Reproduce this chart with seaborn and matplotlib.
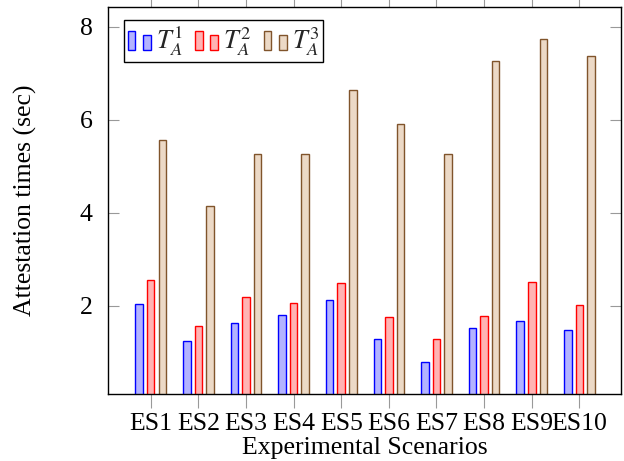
import matplotlib
matplotlib.use("Agg")
import matplotlib.pyplot as plt
import seaborn as sns
import pandas as pd
from matplotlib.legend_handler import HandlerBase
from matplotlib.patches import Rectangle

scenarios = ["ES1", "ES2", "ES3", "ES4", "ES5", "ES6", "ES7", "ES8", "ES9", "ES10"]
t1 = [2.04, 1.25, 1.63, 1.80, 2.12, 1.28, 0.79, 1.52, 1.67, 1.48]
t2 = [2.55, 1.56, 2.18, 2.06, 2.49, 1.76, 1.28, 1.77, 2.50, 2.02]
t3 = [5.56, 4.14, 5.26, 5.26, 6.65, 5.92, 5.26, 7.26, 7.74, 7.38]
series_names = [r"$T_A^1$", r"$T_A^2$", r"$T_A^3$"]
yticks = [2, 4, 6, 8]

fills = [(0.7, 0.7, 1.0), (1.0, 0.7, 0.7), (0.925, 0.85, 0.775)]
edges = [(0.0, 0.0, 1.0), (1.0, 0.0, 0.0), (0.5, 0.33, 0.17)]

rows = []
for name, vals in zip(series_names, [t1, t2, t3]):
    for s, v in zip(scenarios, vals):
        rows.append({"Scenario": s, "Series": name, "Time": v})
df = pd.DataFrame(rows)

sns.set_theme(style="white")
plt.rcParams["font.family"] = ["Liberation Serif", "DejaVu Serif"]
plt.rcParams["mathtext.fontset"] = "stix"

FS = 18.5

fig = plt.figure(figsize=(6.24, 4.61), dpi=100)
ax = fig.add_axes([108 / 624, 1 - 394 / 461, (621 - 108) / 624, (394 - 7) / 461])

sns.barplot(data=df, x="Scenario", y="Time", hue="Series", order=scenarios,
            hue_order=series_names, palette=fills, width=0.73, gap=0.35,
            linewidth=1.0, ax=ax, legend=False, saturation=1)

for cont, ec in zip(ax.containers, edges):
    for p in cont.patches:
        p.set_edgecolor(ec)
        p.set_linewidth(1.0)

ax.set_xlim(-0.897, 9.874)
ax.set_ylim(0.10, 8.43)
ax.set_yticks(yticks)
ax.set_yticklabels([str(t) for t in yticks])

for sp in ax.spines.values():
    sp.set_visible(True)
    sp.set_color("black")
    sp.set_linewidth(1.0)

ax.tick_params(axis="x", direction="out", length=10, width=0.8, color="0.6",
               top=True, bottom=True, labelsize=FS, pad=4, labelcolor="black")
ax.tick_params(axis="y", direction="in", length=8, width=0.8, color="0.6",
               left=True, right=True, labelsize=FS, pad=11, labelcolor="black")

ax.set_xlabel("Experimental Scenarios", fontsize=FS, labelpad=1, color="black")
ax.set_ylabel("Attestation times (sec)", fontsize=FS, labelpad=31, color="black")


class TwoBarHandler(HandlerBase):
    def __init__(self, fc, ec):
        super().__init__()
        self.fc = fc
        self.ec = ec

    def create_artists(self, legend, orig_handle, xdescent, ydescent, width,
                       height, fontsize, trans):
        bw = width * 0.33
        r1 = Rectangle((-xdescent, -ydescent - 0.1 * height), bw, height * 1.05,
                       facecolor=self.fc, edgecolor=self.ec, lw=1.0, transform=trans)
        r2 = Rectangle((-xdescent + width - bw, -ydescent - 0.1 * height), bw,
                       height * 0.8, facecolor=self.fc, edgecolor=self.ec, lw=1.0,
                       transform=trans)
        return [r1, r2]


handles = [Rectangle((0, 0), 1, 1) for _ in series_names]
handler_map = {h: TwoBarHandler(fc, ec) for h, fc, ec in zip(handles, fills, edges)}
leg = ax.legend(handles, series_names, handler_map=handler_map, ncol=3,
                loc="upper left", bbox_to_anchor=(0.031, 0.966), borderaxespad=0,
                fontsize=19, frameon=True, fancybox=False, framealpha=1,
                edgecolor="black", handlelength=0.87, handletextpad=0.2,
                columnspacing=0.45, borderpad=0.15)
leg.get_frame().set_linewidth(1.0)

fig.savefig("out.png", dpi=100)
